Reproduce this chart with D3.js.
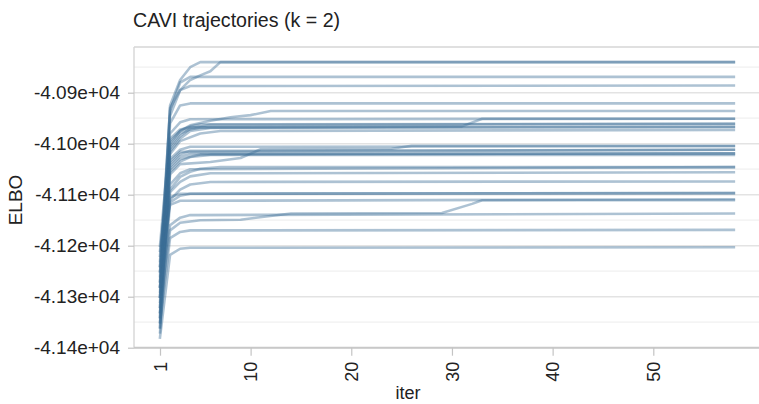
<!DOCTYPE html>
<html>
<head>
<meta charset="utf-8">
<script src="https://cdn.jsdelivr.net/npm/d3@7"></script>
<style>
  html, body { margin: 0; padding: 0; background: #fff; }
  svg { display: block; }
  text { font-family: "Liberation Sans", Arial, Helvetica, sans-serif; fill: #222; }
</style>
</head>
<body>
<svg id="chart" width="759" height="404"></svg>
<script>
// ---- data ----
const titleText = "CAVI trajectories (k = 2)";
const xLabel = "iter";
const yLabel = "ELBO";
const iterTicks = [1, 10, 20, 30, 40, 50];
const elboTicks = [-40900, -41000, -41100, -41200, -41300, -41400];
const elboTickLabels = ["-4.09e+04", "-4.10e+04", "-4.11e+04", "-4.12e+04", "-4.13e+04", "-4.14e+04"];
const elboMinorTicks = [-40850, -40950, -41050, -41150, -41250, -41350];

// each run: [iter, ELBO] change points
const run01 = [[1,-41300],[2,-40925],[3,-40875],[4,-40850],[5,-40840],[58,-40840]];
const run02 = [[1,-41260],[2,-40930],[3,-40895],[4,-40875],[5,-40866],[6,-40858],[7,-40840],[58,-40840]];
const run03 = [[1,-41240],[2,-40935],[3,-40880],[4,-40869],[58,-40869]];
const run04 = [[1,-41280],[2,-40945],[3,-40895],[4,-40887],[58,-40886]];
const run05 = [[1,-41320],[2,-40960],[3,-40925],[4,-40921],[58,-40921]];
const run06 = [[1,-41340],[2,-40995],[3,-40975],[4,-40964],[6,-40955],[8,-40948],[10,-40944],[12,-40936],[58,-40936]];
const run07 = [[1,-41230],[2,-40990],[3,-40972],[4,-40968],[31,-40966],[33,-40951],[58,-40951]];
const run08 = [[1,-41200],[2,-40980],[3,-40958],[4,-40952],[58,-40951]];
const run09 = [[1,-41290],[2,-41000],[3,-40975],[4,-40966],[5,-40962],[58,-40961]];
const run10 = [[1,-41350],[2,-41010],[3,-40985],[4,-40970],[6,-40963],[58,-40961]];
const run11 = [[1,-41270],[2,-41005],[3,-40980],[4,-40972],[5,-40968],[58,-40967]];
const run12 = [[1,-41310],[2,-41015],[3,-40990],[4,-40975],[6,-40969],[58,-40967]];
const run13 = [[1,-41220],[2,-41020],[3,-40995],[5,-40980],[7,-40975],[58,-40973]];
const run14 = [[1,-41330],[2,-41060],[3,-41040],[6,-41036],[9,-41028],[11,-41011],[24,-41010],[26,-41004],[58,-41004]];
const run15 = [[1,-41250],[2,-41030],[3,-41012],[4,-41006],[58,-41005]];
const run16 = [[1,-41360],[2,-41040],[3,-41020],[4,-41014],[58,-41012]];
const run17 = [[1,-41210],[2,-41035],[3,-41016],[58,-41012]];
const run18 = [[1,-41300],[2,-41045],[3,-41025],[4,-41020],[58,-41019]];
const run19 = [[1,-41270],[2,-41050],[3,-41030],[5,-41021],[58,-41019]];
const run20 = [[1,-41340],[2,-41055],[3,-41035],[4,-41026],[6,-41022],[58,-41022]];
const run21 = [[1,-41320],[2,-41090],[3,-41065],[4,-41055],[5,-41049],[7,-41046],[58,-41046]];
const run22 = [[1,-41240],[2,-41080],[3,-41058],[4,-41050],[58,-41046]];
const run23 = [[1,-41360],[2,-41095],[3,-41075],[4,-41064],[6,-41058],[58,-41056]];
const run24 = [[1,-41280],[2,-41110],[3,-41090],[4,-41080],[6,-41075],[58,-41074]];
const run25 = [[1,-41300],[2,-41105],[3,-41098],[58,-41097]];
const run26 = [[1,-41370],[2,-41115],[3,-41102],[4,-41098],[58,-41097]];
const run27 = [[1,-41250],[2,-41120],[3,-41112],[58,-41109]];
const run28 = [[1,-41330],[2,-41170],[3,-41155],[5,-41150],[9,-41149],[14,-41137],[29,-41136],[32,-41118],[33,-41111],[58,-41111]];
const run29 = [[1,-41280],[2,-41160],[3,-41145],[4,-41140],[58,-41137]];
const run30 = [[1,-41350],[2,-41185],[3,-41173],[4,-41170],[58,-41169]];
const run31 = [[1,-41380],[2,-41218],[3,-41206],[4,-41204],[58,-41203]];

const runs = [run01, run02, run03, run04, run05, run06, run07, run08, run09, run10,
              run11, run12, run13, run14, run15, run16, run17, run18, run19, run20,
              run21, run22, run23, run24, run25, run26, run27, run28, run29, run30, run31];

// ---- layout ----
const svg = d3.select("#chart");
const plotLeft = 134, plotTop = 47, plotRight = 770, plotBottom = 347.7;

const x = d3.scaleLinear().domain([1, 50]).range([160, 653.3]);
const y = d3.scaleLinear().domain([-41400, -40900]).range([347.7, 92.7]);

// minor gridlines
svg.append("g").selectAll("line").data(elboMinorTicks).join("line")
  .attr("x1", plotLeft).attr("x2", plotRight)
  .attr("y1", d => y(d)).attr("y2", d => y(d))
  .attr("stroke", "#f0f0f0").attr("stroke-width", 1.2);

// major gridlines
svg.append("g").selectAll("line").data(elboTicks).join("line")
  .attr("x1", plotLeft).attr("x2", plotRight)
  .attr("y1", d => y(d)).attr("y2", d => y(d))
  .attr("stroke", "#e3e3e3").attr("stroke-width", 1.5);

// frame (left + top)
svg.append("line").attr("x1", plotLeft).attr("x2", plotLeft)
  .attr("y1", plotTop).attr("y2", plotBottom)
  .attr("stroke", "#cfcfcf").attr("stroke-width", 1.2);
svg.append("line").attr("x1", plotLeft).attr("x2", plotRight)
  .attr("y1", plotTop).attr("y2", plotTop)
  .attr("stroke", "#d6d6d6").attr("stroke-width", 1.5);

// trajectories
const line = d3.line().x(d => x(d[0])).y(d => y(d[1]));
svg.append("g").selectAll("path").data(runs).join("path")
  .attr("d", line)
  .attr("fill", "none")
  .attr("stroke", "#3b6e95")
  .attr("stroke-opacity", 0.42)
  .attr("stroke-width", 2.6)
  .attr("stroke-linejoin", "round")
  .attr("stroke-linecap", "square");

// y axis
const yAxis = d3.axisLeft(y).tickValues(elboTicks)
  .tickFormat((d, i) => elboTickLabels[i]).tickSize(6).tickPadding(8);
const gy = svg.append("g").attr("transform", `translate(${plotLeft},0)`).call(yAxis);
gy.select(".domain").remove();
gy.selectAll(".tick line").attr("stroke", "#c4c4c4").attr("stroke-width", 1.2);
gy.selectAll(".tick text").attr("font-size", 19).attr("fill", "#222")
  .attr("font-family", "'Liberation Sans', Arial, sans-serif");

// x axis
const xAxis = d3.axisBottom(x).tickValues(iterTicks).tickFormat(d3.format("d")).tickSize(8).tickPadding(6);
const gx = svg.append("g").attr("transform", `translate(0,${plotBottom})`).call(xAxis);
gx.select(".domain").attr("d", `M${plotLeft},0H${plotRight}`).attr("stroke", "#c8c8c8").attr("stroke-width", 2);
gx.selectAll(".tick line").attr("stroke", "#c4c4c4").attr("stroke-width", 1.2);
gx.selectAll(".tick text")
  .attr("font-size", 18).attr("fill", "#222")
  .attr("font-family", "'Liberation Sans', Arial, sans-serif")
  .attr("text-anchor", "end")
  .attr("dy", "0.35em")
  .attr("transform", "translate(0,14) rotate(-90)")
  .attr("x", 0).attr("y", 0);

// titles
svg.append("text").attr("x", 133).attr("y", 27)
  .attr("font-size", 19.6).text(titleText);
svg.append("text").attr("x", 408).attr("y", 399)
  .attr("text-anchor", "middle").attr("font-size", 18).text(xLabel);
svg.append("text").attr("transform", "translate(22,200) rotate(-90)")
  .attr("text-anchor", "middle").attr("font-size", 19).text(yLabel);
</script>
</body>
</html>
